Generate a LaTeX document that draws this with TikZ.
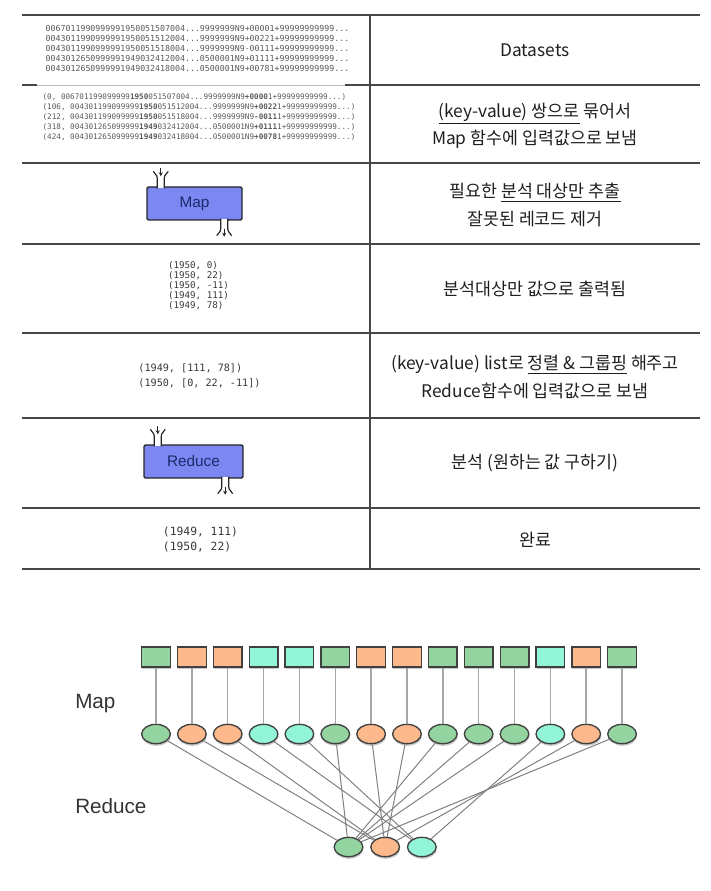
\documentclass[tikz,border=0pt]{standalone}
\usepackage{fontspec}
\setmainfont{Noto Sans CJK KR}
\setmonofont{DejaVu Sans Mono}
\newfontfamily\arialfont{Liberation Sans}
\usepackage{xcolor}
\usepackage{tikz}
\usetikzlibrary{shapes.geometric, arrows.meta, positioning, shadows}

\definecolor{keygreen}{HTML}{93D4A0}
\definecolor{keyorange}{HTML}{FDB98B}
\definecolor{keycyan}{HTML}{93F5D8}
\definecolor{funcblue}{HTML}{7D87F2}
\definecolor{funcnavy}{HTML}{1B2A6B}

\begin{document}
\begin{tikzpicture}[x=0.75pt, y=-0.75pt,
        % Define common styles for nodes
        rule/.style={draw=black!72, line width=1.1pt},
        rawdata/.style={inner sep=0pt, align=left, text=black!65},
        pairs/.style={inner sep=0pt, align=left, text=black!78},
        desc/.style={inner sep=0pt, align=center, text=black!88, font=\fontsize{13}{20.5}\selectfont},
        funcbox/.style={rectangle, draw=black!85, line width=1.1pt, fill=funcblue, text=funcnavy, minimum height=24.75pt, rounded corners=1pt, font=\arialfont\fontsize{11.5}{14}\selectfont},
        port/.style={draw=black!85, line width=0.9pt},
        % Styles for the map/reduce flow
        chunk/.style={rectangle, draw=black!75, line width=1pt, minimum width=21.5pt, minimum height=15pt, inner sep=0pt, drop shadow={shadow xshift=0.4pt, shadow yshift=-1.6pt, opacity=0.22, fill=black}},
        kvpair/.style={ellipse, draw=black!75, line width=1pt, minimum width=21.5pt, minimum height=14.5pt, inner sep=0pt, drop shadow={shadow xshift=0.4pt, shadow yshift=-1.6pt, opacity=0.22, fill=black}},
        stem/.style={draw=black!35, line width=1.1pt},
        link/.style={draw=black!50, line width=0.75pt},
        stagelabel/.style={anchor=west, inner sep=0pt, text=black!80, font=\arialfont\fontsize{15.5}{18}\selectfont},
    ]
    \useasboundingbox (0,0) rectangle (710,891);

    % Table rules
    \foreach \y in {15,163,244,333,418,508,569} \draw[rule] (22,\y) -- (700,\y);
    \draw[rule] (22,85) -- (37,85);
    \draw[rule] (345,85) -- (700,85);
    \draw[draw=black!25, line width=0.6pt] (37,85) -- (345,85);
    \draw[rule] (370,15) -- (370,569);

    % Left column (data at each step)
    \node (raw_records) [rawdata, font=\ttfamily\fontsize{6.2}{7.5}\selectfont] at (197.5,48) {0067011990999991950051507004...9999999N9+00001+99999999999...\\0043011990999991950051512004...9999999N9+00221+99999999999...\\0043011990999991950051518004...9999999N9-00111+99999999999...\\0043012650999991949032412004...0500001N9+01111+99999999999...\\0043012650999991949032418004...0500001N9+00781+99999999999...};
    \node (keyed_records) [rawdata, font=\ttfamily\fontsize{5.73}{7.5}\selectfont] at (199,117) {(0, 006701199099999\textbf{1950}051507004...9999999N9\textbf{+0000}1+99999999999...)\\(106, 004301199099999\textbf{1950}051512004...9999999N9\textbf{+0022}1+99999999999...)\\(212, 004301199099999\textbf{1950}051518004...9999999N9\textbf{-0011}1+99999999999...)\\(318, 004301265099999\textbf{1949}032412004...0500001N9\textbf{+0111}1+99999999999...)\\(424, 004301265099999\textbf{1949}032418004...0500001N9\textbf{+0078}1+99999999999...)};
    \node (map_box) [funcbox, minimum width=71.25pt] at (194.5,203.5) {Map};
    \node (map_output) [pairs, font=\ttfamily\fontsize{6.9}{7.5}\selectfont] at (198.5,286) {(1950, 0)\\(1950, 22)\\(1950, -11)\\(1949, 111)\\(1949, 78)};
    \node (grouped) [pairs, font=\ttfamily\fontsize{7.6}{11.25}\selectfont] at (199.5,375.5) {(1949, [111, 78])\\(1950, [0, 22, -11])};
    \node (reduce_box) [funcbox, minimum width=74.25pt] at (193.5,461.5) {Reduce};
    \node (result) [pairs, font=\ttfamily\fontsize{8.5}{11.25}\selectfont] at (200.5,539.5) {(1949, 111)\\(1950, 22)};

    % Input and output ports of the two function boxes
    \foreach \b in {map_box, reduce_box} {
        \begin{scope}[shift={(\b.north west)}]
            \fill[white] (11.5,-8) rectangle (17.5,2);
            \draw[port] (11,2) -- (11,-8) .. controls (11,-12) and (8,-12) .. (7,-15);
            \draw[port] (18,2) -- (18,-8) .. controls (18,-12) and (21,-12) .. (22,-15);
            \draw[port, -{Stealth[length=3pt, width=3pt]}] (14.5,-18) -- (14.5,-10);
        \end{scope}
        \begin{scope}[shift={(\b.south east)}]
            \fill[white] (-21.5,-2) rectangle (-15.5,8);
            \draw[port] (-22,-2) -- (-22,8) .. controls (-22,12) and (-25,12) .. (-26,15);
            \draw[port] (-15,-2) -- (-15,8) .. controls (-15,12) and (-12,12) .. (-11,15);
            \draw[port, -{Stealth[length=3pt, width=3pt]}] (-18.5,8) -- (-18.5,16);
        \end{scope}
    }

    % Right column (what happens at each step)
    \node (desc_datasets) [desc] at (535,50) {Datasets};
    \node (desc_pairs) [desc] at (535,126) {\underline{(key-value) 쌍으로} 묶어서\\Map 함수에 입력값으로 보냄};
    \node (desc_map) [desc] at (535,205) {필요한 \underline{분석 대상만 추출}\\잘못된 레코드 제거};
    \node (desc_values) [desc] at (535,289) {분석대상만 값으로 출력됨};
    \node (desc_shuffle) [desc] at (535,377) {(key-value) list로 \underline{정렬 \& 그룹핑} 해주고\\Reduce함수에 입력값으로 보냄};
    \node (desc_reduce) [desc] at (535,463) {분석 (원하는 값 구하기)};
    \node (desc_done) [desc] at (535,540) {완료};

    % Map / Reduce flow
    \node (label_map) [stagelabel] at (75,704) {Map};
    \node (label_reduce) [stagelabel] at (75,806) {Reduce};

    \foreach \c [count=\i] in {green,orange,orange,cyan,cyan,green,orange,orange,green,green,green,cyan,orange,green} {
        \node (chunk\i) [chunk, fill=key\c] at ({156+35.85*(\i-1)},657) {};
        \node (pair\i) [kvpair, fill=key\c] at ({156+35.85*(\i-1)},734) {};
        \draw[stem] (chunk\i) -- (pair\i);
    }
    \node (reduce_green) [kvpair, fill=keygreen] at (348.5,847) {};
    \node (reduce_orange) [kvpair, fill=keyorange, right=5pt of reduce_green] {};
    \node (reduce_cyan) [kvpair, fill=keycyan, right=5pt of reduce_orange] {};

    \foreach \c [count=\i] in {green,orange,orange,cyan,cyan,green,orange,orange,green,green,green,cyan,orange,green}
        \draw[link] (pair\i) -- (reduce_\c);

\end{tikzpicture}
\end{document}
